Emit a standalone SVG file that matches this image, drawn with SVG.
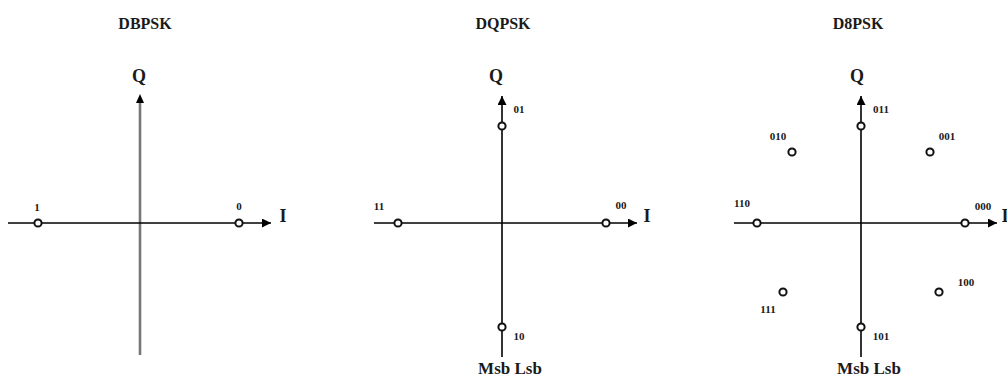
<svg xmlns="http://www.w3.org/2000/svg" width="1007" height="383" viewBox="0 0 1007 383">
<style>
.t{font-family:"Liberation Serif","Times New Roman",serif;font-weight:bold;fill:#1a1a1a;text-anchor:middle}
.title{font-size:16px}
.ax{font-size:18px}
.lb{font-size:11px}
.ms{font-size:17px}
.line{stroke:#000;stroke-width:1.6;fill:none}
.gray{stroke:#777;stroke-width:2.6;fill:none}
.pt{fill:#fff;stroke:#111;stroke-width:2}
</style>
<defs>
<marker id="ah" viewBox="0 0 10 10" refX="10" refY="5" markerWidth="9" markerHeight="9" markerUnits="userSpaceOnUse" orient="auto">
<path d="M0,0 L10,5 L0,10 z" fill="#000"/>
</marker>
</defs>
<g id="connectors">
<line class="gray" x1="140" y1="355" x2="140" y2="100"/>
<path d="M140,94 L136,103 L144,103 z" fill="#000"/>
<line class="line" x1="8" y1="223" x2="271" y2="223" marker-end="url(#ah)"/>
<line class="line" x1="502" y1="357" x2="502" y2="96" marker-end="url(#ah)"/>
<line class="line" x1="374" y1="223" x2="637" y2="223" marker-end="url(#ah)"/>
<line class="line" x1="861" y1="357" x2="861" y2="96" marker-end="url(#ah)"/>
<line class="line" x1="734" y1="223" x2="997" y2="223" marker-end="url(#ah)"/>
</g>
<g id="dbpsk">
<text class="t title" x="145" y="29">DBPSK</text>
<text class="t ax" x="139" y="82">Q</text>
<text class="t ax" x="283" y="222">I</text>
<circle class="pt" cx="38" cy="223" r="3.6"/>
<circle class="pt" cx="239" cy="223" r="3.6"/>
<text class="t lb" x="37" y="211">1</text>
<text class="t lb" x="239" y="210">0</text>
</g>
<g id="dqpsk">
<text class="t title" x="503" y="29">DQPSK</text>
<text class="t ax" x="496" y="82">Q</text>
<text class="t ax" x="647" y="222">I</text>
<circle class="pt" cx="502" cy="126" r="3.6"/>
<circle class="pt" cx="502" cy="327" r="3.6"/>
<circle class="pt" cx="398" cy="223" r="3.6"/>
<circle class="pt" cx="606" cy="223" r="3.6"/>
<text class="t lb" x="519" y="113">01</text>
<text class="t lb" x="519" y="340">10</text>
<text class="t lb" x="379" y="210">11</text>
<text class="t lb" x="621" y="209">00</text>
<text class="t ms" x="510" y="374">Msb Lsb</text>
</g>
<g id="d8psk">
<text class="t title" x="858" y="29">D8PSK</text>
<text class="t ax" x="857" y="82">Q</text>
<text class="t ax" x="1005" y="222">I</text>
<circle class="pt" cx="861" cy="126" r="3.6"/>
<circle class="pt" cx="861" cy="327" r="3.6"/>
<circle class="pt" cx="757" cy="223" r="3.6"/>
<circle class="pt" cx="965" cy="223" r="3.6"/>
<circle class="pt" cx="792" cy="152" r="3.6"/>
<circle class="pt" cx="930" cy="152" r="3.6"/>
<circle class="pt" cx="783" cy="292" r="3.6"/>
<circle class="pt" cx="939" cy="292" r="3.6"/>
<text class="t lb" x="881" y="113">011</text>
<text class="t lb" x="947" y="140">001</text>
<text class="t lb" x="778" y="140">010</text>
<text class="t lb" x="742" y="207">110</text>
<text class="t lb" x="983" y="210">000</text>
<text class="t lb" x="966" y="286">100</text>
<text class="t lb" x="768" y="313">111</text>
<text class="t lb" x="881" y="340">101</text>
<text class="t ms" x="869" y="374">Msb Lsb</text>
</g>
</svg>
